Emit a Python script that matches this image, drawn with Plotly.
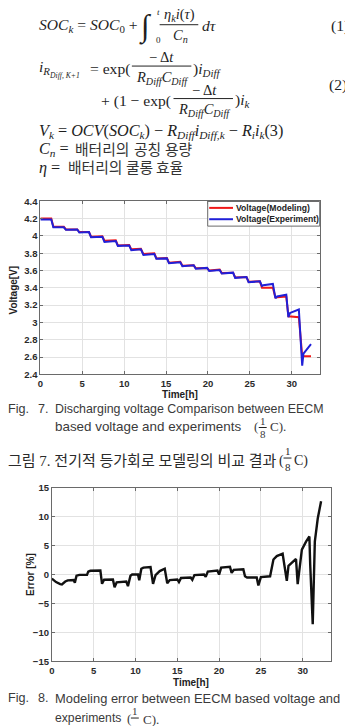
import plotly.graph_objects as go

# ---------------- data ----------------
time_model = [0.0, 1.3, 1.55, 2.8, 3.05, 4.4, 4.65, 5.8, 6.05, 7.4, 7.65, 9.0, 9.25, 10.6, 10.85, 12.0,
              12.3, 13.6, 13.85, 15.1, 15.35, 16.7, 16.95, 18.3, 18.55, 19.9, 20.15, 21.4, 21.65, 23.0,
              23.25, 24.6, 24.85, 26.2, 26.45, 27.75, 28.05, 29.35, 29.6, 30.85, 31.25, 32.3]
volt_model = [4.20, 4.20, 4.105, 4.105, 4.075, 4.075, 4.045, 4.045, 3.99, 3.995, 3.945, 3.95, 3.89, 3.895,
              3.845, 3.85, 3.79, 3.80, 3.74, 3.745, 3.69, 3.70, 3.655, 3.66, 3.625, 3.63, 3.60, 3.61, 3.57,
              3.575, 3.52, 3.525, 3.47, 3.475, 3.40, 3.40, 3.29, 3.30, 3.07, 3.06, 2.61, 2.61]

time_exp = [0.0, 1.3, 1.55, 2.8, 3.05, 4.4, 4.65, 5.8, 6.05, 7.4, 7.65, 9.0, 9.25, 10.6, 10.85, 12.0,
            12.3, 13.6, 13.85, 15.1, 15.35, 16.7, 16.95, 18.3, 18.55, 19.9, 20.15, 21.4, 21.65, 23.0,
            23.25, 24.6, 24.85, 26.2, 26.45, 26.6, 27.75, 28.05, 28.25, 29.35, 29.6, 29.8, 30.85,
            31.25, 31.4, 31.8, 32.3]
volt_exp = [4.19, 4.19, 4.10, 4.10, 4.07, 4.075, 4.04, 4.045, 3.985, 3.99, 3.93, 3.94, 3.885, 3.89,
            3.835, 3.845, 3.78, 3.79, 3.735, 3.74, 3.685, 3.695, 3.65, 3.66, 3.62, 3.63, 3.595, 3.605,
            3.565, 3.575, 3.515, 3.525, 3.465, 3.475, 3.42, 3.43, 3.445, 3.28, 3.30, 3.32, 3.06, 3.11,
            3.15, 2.50, 2.64, 2.69, 2.75]

time_err = [0.0, 0.5, 1.0, 1.2, 1.6, 1.9, 2.6, 2.75, 2.95, 3.3, 4.2, 4.35, 4.6, 5.8, 6.0, 6.25, 7.3,
            7.5, 7.75, 8.9, 9.1, 9.4, 9.6, 10.3, 10.45, 10.7, 10.95, 11.8, 12.1, 12.4, 12.9, 13.5,
            13.8, 14.1, 15.0, 15.2, 15.45, 16.6, 16.8, 17.05, 18.2, 18.4, 18.65, 19.8, 20.0, 20.25,
            21.3, 21.5, 21.75, 22.9, 23.1, 23.35, 24.5, 24.7, 25.0, 26.1, 26.5, 26.9, 27.6, 28.1,
            28.3, 28.7, 29.2, 29.4, 29.9, 30.4, 30.8, 30.9, 31.2, 31.45, 31.8, 32.2]
err_pct = [-0.7, -1.3, -1.65, -1.7, -1.2, -1.0, -0.95, -1.4, -0.2, -0.05, -0.05, 0.5, 0.65, 0.7, -1.6,
           -0.9, -0.85, -2.2, -1.35, -1.2, -2.0, -0.2, 0.0, 0.0, -1.0, 1.0, 1.2, 1.3, -1.6, -0.1, 0.6,
           1.0, -1.5, -0.95, -0.85, -1.3, -0.6, -0.5, -0.9, -0.1, 0.0, -0.4, 0.5, 0.7, 0.0, 1.2, 1.35,
           0.3, 0.8, 0.9, -0.3, -0.5, -0.5, -1.9, -0.45, -0.3, 2.6, 3.2, 3.6, -1.1, 1.5, 2.1, 2.7,
           -1.65, 4.3, 5.7, 6.6, 1.65, -8.6, 5.7, 9.7, 12.7]

x_ticks = [0, 5, 10, 15, 20, 25, 30]
v_ticks = [2.4, 2.6, 2.8, 3.0, 3.2, 3.4, 3.6, 3.8, 4.0, 4.2, 4.4]
v_tick_labels = ["2.4", "2.6", "2.8", "3", "3.2", "3.4", "3.6", "3.8", "4", "4.2", "4.4"]
e_ticks = [-15, -10, -5, 0, 5, 10, 15]
series_names = ["Voltage(Modeling)", "Voltage(Experiment)"]
series_colors = ["#f01818", "#2020d8"]

# ---------------- layout helpers ----------------
W, H = 345, 726


def px(x):
    return x / W


def py(y):
    return 1 - y / H


fig = go.Figure()
fig.add_trace(go.Scatter(x=time_model, y=volt_model, mode="lines", name=series_names[0],
                         line=dict(color=series_colors[0], width=2), xaxis="x", yaxis="y"))
fig.add_trace(go.Scatter(x=time_exp, y=volt_exp, mode="lines", name=series_names[1],
                         line=dict(color=series_colors[1], width=2), xaxis="x", yaxis="y"))
fig.add_trace(go.Scatter(x=time_err, y=err_pct, mode="lines",
                         line=dict(color="#111111", width=2.4), xaxis="x2", yaxis="y2"))

axis_common = dict(showgrid=True, gridcolor="#e2e2e2", gridwidth=1, showline=True, linecolor="#6a6a6a",
                   linewidth=1, mirror="ticks", ticks="inside", ticklen=3, tickcolor="#6a6a6a",
                   zeroline=False,
                   tickfont=dict(family="Liberation Sans", size=9.5, color="#2a2a2a", weight="bold"))

fig.update_layout(
    width=W, height=H, margin=dict(l=0, r=0, t=0, b=0),
    paper_bgcolor="white", plot_bgcolor="white", showlegend=False,
    xaxis=dict(domain=[px(37.7), px(320)], range=[0, 33.4], tickvals=x_ticks, anchor="y", **axis_common),
    yaxis=dict(domain=[py(374), py(198.3)], range=[2.4, 4.4], tickvals=v_ticks, ticktext=v_tick_labels,
               anchor="x", **axis_common),
    xaxis2=dict(domain=[px(49.3), px(331)], range=[0, 33.4], tickvals=x_ticks, anchor="y2", **axis_common),
    yaxis2=dict(domain=[py(665.3), py(489.3)], range=[-15, 15], tickvals=e_ticks, anchor="x2",
                **axis_common),
)

ann = []
SERIF = "Liberation Serif, DejaVu Serif, Noto Sans CJK KR"
KR = "Liberation Serif, Noto Sans CJK KR"
SANS = "Liberation Sans, Arial"


def text(x, y, s, size=15, family=SERIF, anchor="left", color="#1e1e1e", angle=0):
    ann.append(dict(x=px(x), y=py(y), xref="paper", yref="paper", text=s, showarrow=False,
                    xanchor=anchor, yanchor="middle", textangle=angle,
                    font=dict(family=family, size=size, color=color)))


def bar(x0, x1, y, color="#222", width=1):
    fig.add_shape(type="line", xref="paper", yref="paper", x0=px(x0), x1=px(x1), y0=py(y), y1=py(y),
                  line=dict(color=color, width=width))


# Legend (drawn box in chart 1's top-right corner)
fig.add_shape(type="rect", xref="paper", yref="paper", x0=px(206.5), x1=px(319.5), y0=py(223.5),
              y1=py(198.5), line=dict(color="#6a6a6a", width=1), fillcolor="white")
for i, (nm, col) in enumerate(zip(series_names, series_colors)):
    yy = 205 + 11.5 * i
    bar(208, 232, yy, color=col, width=2)
    ann.append(dict(x=px(233), y=py(yy), xref="paper", yref="paper", text="<b>%s</b>" % nm,
                    showarrow=False, xanchor="left", yanchor="middle",
                    font=dict(family=SANS, size=8.6, color="#222")))

# Equation (1)
text(34, 20, "<i>SOC</i><sub><i>k</i></sub> = <i>SOC</i><sub>0</sub> +", size=15.6)
text(135, 21, "∫", size=31)
text(153, 6, "<i>t</i>", size=9)
text(152, 35, "0", size=9)
text(178, 9, "<i>η</i><sub><i>k</i></sub><i>i</i>(<i>τ</i>)", size=14.5, anchor="center")
bar(158, 197, 19)
text(179, 30, "<i>C</i><sub><i>n</i></sub>", size=14.5, anchor="center")
text(199, 20, "<i>dτ</i>", size=15.6)
text(329, 20, "(1)", size=15.6)

# Equation (2)
text(34, 64, "<i>i</i><sub><i>R</i><sub><i>Diff, K+1</i></sub></sub>", size=15.6)
text(86, 64, "= exp(", size=15.6)
text(160, 52, "− Δ<i>t</i>", size=14.5, anchor="center")
bar(130, 190, 61)
text(160, 73, "<i>R</i><sub><i>Diff</i></sub><i>C</i><sub><i>Diff</i></sub>", size=14.5, anchor="center")
text(190, 64, ")<i>i</i><sub><i>Diff</i></sub>", size=15.6)
text(97, 96, "+ (1 − exp(", size=15.6)
text(203, 85, "− Δ<i>t</i>", size=14.5, anchor="center")
bar(172, 232, 94)
text(203, 106, "<i>R</i><sub><i>Diff</i></sub><i>C</i><sub><i>Diff</i></sub>", size=14.5, anchor="center")
text(232, 96, ")<i>i</i><sub><i>k</i></sub>", size=15.6)
text(327, 80, "(2)", size=15.6)

# Equation (3) and definitions
text(34, 127, "<i>V</i><sub><i>k</i></sub> = <i>OCV</i>(<i>SOC</i><sub><i>k</i></sub>) − "
              "<i>R</i><sub><i>Diff</i></sub><i>i</i><sub><i>Diff,k</i></sub> − "
              "<i>R</i><sub><i>i</i></sub><i>i</i><sub><i>k</i></sub>(3)", size=16.2)
text(34, 146, "<i>C</i><sub><i>n</i></sub> =", size=16.2)
for xw, w in zip([71, 130, 161], ["배터리의", "공칭", "용량"]):
    text(xw, 146, w, size=14.8, family=KR, color="#333")
text(34, 164, "<i>η</i> =", size=16.2)
for xw, w in zip([64, 122, 152], ["배터리의", "쿨롱", "효율"]):
    text(xw, 164, w, size=14.8, family=KR, color="#333")

# chart 1 axis titles
text(11, 288, "<b>Voltage[V]</b>", size=10, family=SANS, anchor="center", color="#222", angle=-90)
text(179, 394, "<b>Time[h]</b>", size=10, family=SANS, anchor="center", color="#222")

# Fig. 7 caption
CAP = "#3a3a3a"
text(3, 409, "Fig.", size=12.6, family=SANS, color=CAP)
text(33, 409, "7.", size=12.6, family=SANS, color=CAP)
text(50, 409, "Discharging voltage Comparison between EECM", size=12.4, family=SANS, color=CAP)
text(50, 427, "based voltage and experiments", size=13.4, family=SANS, color=CAP)
text(251, 427, "(", size=13, family=SERIF, color=CAP)
text(262, 421, "1", size=11, family=SERIF, anchor="center", color=CAP)
bar(258, 266, 428)
text(262, 435, "8", size=11, family=SERIF, anchor="center", color=CAP)
text(267, 427, "C).", size=13, family=SERIF, color=CAP)

# Korean caption
text(3, 462, "그림 7. 전기적 등가회로 모델링의 비교 결과", size=15, family=KR, color="#2a2a2a")
text(276, 462, "(", size=14, family=SERIF, color="#2a2a2a")
text(287, 452, "1", size=11, family=SERIF, anchor="center", color="#2a2a2a")
bar(283, 291, 459)
text(287, 468, "8", size=11, family=SERIF, anchor="center", color="#2a2a2a")
text(292, 462, "C)", size=14, family=SERIF, color="#2a2a2a")

# chart 2 axis titles
text(27, 577, "<b>Error [%]</b>", size=10, family=SANS, anchor="center", color="#222", angle=-90)
text(190, 687, "<b>Time[h]</b>", size=10, family=SANS, anchor="center", color="#222")

# Fig. 8 caption
text(3, 703, "Fig.", size=12.6, family=SANS, color=CAP)
text(33, 703, "8.", size=12.6, family=SANS, color=CAP)
text(50, 703, "Modeling error between EECM based voltage and", size=12.9, family=SANS, color=CAP)
text(50, 723, "experiments", size=12.2, family=SANS, color=CAP)
text(123, 723, "(", size=13, family=SERIF, color=CAP)
text(133, 716, "1", size=11, family=SERIF, anchor="center", color=CAP)
bar(129, 137, 723)
text(139, 724, "C).", size=13, family=SERIF, color=CAP)

fig.update_layout(annotations=ann)
fig.write_html("out.html", config=dict(displayModeBar=False))
